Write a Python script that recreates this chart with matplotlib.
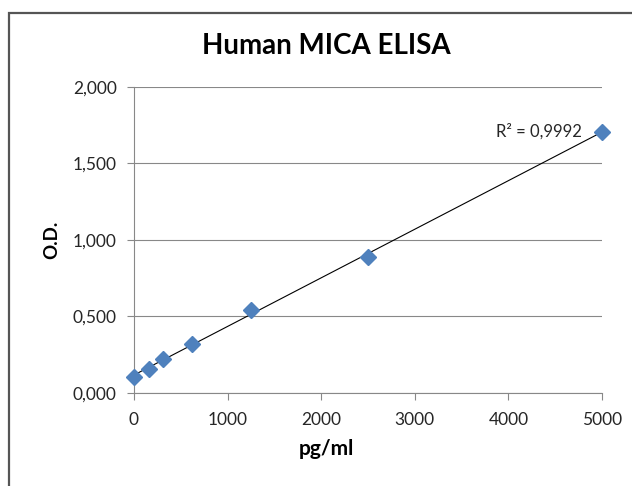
import numpy as np
import matplotlib.pyplot as plt
from matplotlib.patches import Rectangle
from matplotlib.ticker import FuncFormatter

# standard curve values
conc = [0, 156, 312, 625, 1250, 2500, 5000]
od = [0.106, 0.156, 0.225, 0.318, 0.545, 0.890, 1.708]
r2_label = "R² = 0,9992"

plt.rcParams['font.family'] = ['Lato', 'DejaVu Sans']

fig = plt.figure(figsize=(6.32, 4.86), dpi=100)
ax = fig.add_axes([0.212, 0.1914, 0.7405, 0.6296])

# linear trendline through the points
slope, intercept = np.polyfit(conc, od, 1)
xs = np.array([0, 5000])
ax.plot(xs, slope * xs + intercept, color='black', lw=0.8, zorder=2)

ax.plot(conc, od, 'D', color='#4F81BD', ms=8.5, mec='#4F81BD', zorder=3, clip_on=False)

ax.set_xlim(0, 5000)
ax.set_ylim(0, 2.0)
ax.set_xticks(range(0, 5001, 1000))
ax.set_yticks(np.arange(0, 2.01, 0.5))
ax.yaxis.set_major_formatter(FuncFormatter(lambda v, p: f"{v:.3f}".replace('.', ',')))

ax.grid(axis='y', color='#888888', lw=0.8)
ax.set_axisbelow(True)
for s in ['top', 'right']:
    ax.spines[s].set_visible(False)
for s in ['left', 'bottom']:
    ax.spines[s].set_color('#888888')
    ax.spines[s].set_linewidth(0.8)
ax.tick_params(colors='#888888', labelcolor='#262626', labelsize=12.5, length=5, width=0.8)
ax.tick_params(axis='x', pad=9)
ax.tick_params(axis='y', pad=7.5)

ax.set_xlabel("pg/ml", fontsize=15, fontweight='bold')
ax.xaxis.set_label_coords(0.412, -0.15)
ax.set_ylabel("O.D.", fontsize=13.5, fontweight='bold')
ax.yaxis.set_label_coords(-0.158, 0.5)
fig.text(0.517, 0.905, "Human MICA ELISA", ha='center', va='center',
         fontsize=20, fontweight='bold')

ax.text(4790, 1.71, r2_label, ha='right', va='center', fontsize=12, color='#262626')

# chart frame, open on right and bottom
fig.patches.append(Rectangle((0.0145, -0.05), 1.2, 1.023, transform=fig.transFigure,
                             fill=False, ec='#555555', lw=1.6))

fig.savefig('out.png', dpi=100)
